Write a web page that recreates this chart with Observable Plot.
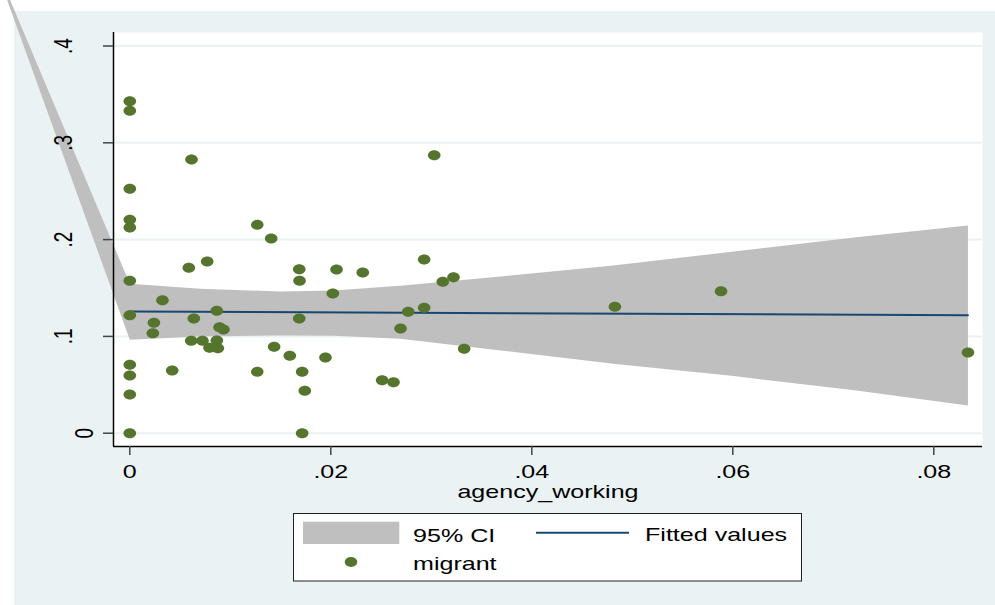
<!DOCTYPE html>
<html>
<head>
<meta charset="utf-8">
<script src="https://cdn.jsdelivr.net/npm/d3@7"></script>
<script src="https://cdn.jsdelivr.net/npm/@observablehq/plot@0.6"></script>
<style>
  html, body { margin: 0; padding: 0; background: #ffffff; overflow: hidden; }
  #page { position: relative; width: 995px; height: 605px; }
  #bg { position: absolute; left: 14px; top: 11px; width: 981px; height: 594px; background: #EAF2F3; }
  #chart { position: absolute; left: 0; top: 0; }
  #legend { position: absolute; left: 0; top: 0; }
</style>
</head>
<body>
<div id="page">
  <div id="bg"></div>
  <div id="chart"></div>
  <svg id="legend" width="995" height="605"></svg>
</div>
<script>
// ---- data ----
const migrantX = [0,0,0.00614,0,0,0,0.01268,0.01407,0.03029,0.00587,0.0077,0.01686,0.01689,0.02057,0.02318,0.02929,0.03114,0.03221,0,0.00325,0.0202,0,0.0024,0.00229,0.00637,0.00866,0.00893,0.00932,0.01686,0.0277,0.02929,0.02694,0.03327,0.00611,0.00723,0.00793,0.00866,0.00876,0.01436,0.01592,0.01947,0,0,0.00422,0.01268,0.01715,0.01741,0.02511,0.02624,0,0,0.01715,0.04827,0.05883,0.0834];
const migrantY = [0.343,0.333,0.2828,0.2525,0.2204,0.2125,0.2153,0.2011,0.2872,0.1708,0.1774,0.1694,0.1574,0.1691,0.166,0.1794,0.1564,0.1612,0.1574,0.1374,0.1443,0.1219,0.114,0.1033,0.1185,0.1264,0.1095,0.1071,0.1185,0.1254,0.1295,0.1082,0.0872,0.0954,0.0954,0.0882,0.0958,0.0878,0.0893,0.08,0.0782,0.0707,0.0596,0.0648,0.0634,0.0634,0.0438,0.0548,0.0527,0.04,0,0,0.1306,0.1467,0.0834];

const bandX     = [0, 0.007, 0.015, 0.0203, 0.0269, 0.0369, 0.0481, 0.0601, 0.0723, 0.0834];
const bandUpper = [0.1543, 0.1492, 0.1464, 0.1474, 0.1522, 0.1620, 0.1732, 0.1877, 0.2025, 0.2146];
const bandLower = [0.0965, 0.0999, 0.1009, 0.1006, 0.0975, 0.0855, 0.0717, 0.0590, 0.0441, 0.0286];
const bandApex  = [-0.014, 0.499]; // stray polygon vertex drawn by the original (the wedge at top left)

const fitX = [0, 0.0834];
const fitY = [0.1257, 0.1219];

const xTicks = [0, 0.02, 0.04, 0.06, 0.08];
const xTickLabels = ["0", ".02", ".04", ".06", ".08"];
const yTicks = [0, 0.1, 0.2, 0.3, 0.4];
const yTickLabels = ["0", ".1", ".2", ".3", ".4"];

const xTitle = "agency_working";
const legendLabels = ["95% CI", "Fitted values", "migrant"];

// ---- styles ----
const GREEN = "#55752F", NAVY = "#1A476F", CI = "#BFBFBF", GRID = "#EAF2F3";
const FONT = "'Liberation Sans', Arial, sans-serif";
const FS = 19;
const STRETCH = 1.32;

const xDomain = [-0.001622, 0.084846];
const yDomain = [-0.01374, 0.41395];

const points = migrantX.map((x, i) => ({x, y: migrantY[i]}));
const poly = [{x: bandApex[0], y: bandApex[1]}]
  .concat(bandX.map((x, i) => ({x, y: bandUpper[i]})))
  .concat(bandX.map((x, i) => ({x, y: bandLower[i]})).reverse())
  .concat([{x: bandApex[0], y: bandApex[1]}]);
const fit = fitX.map((x, i) => ({x, y: fitY[i]}));

const ellipse = {
  draw(ctx) {
    const rx = 6.3, ry = 5, k = 0.5523;
    ctx.moveTo(rx, 0);
    ctx.bezierCurveTo(rx, k * ry, k * rx, ry, 0, ry);
    ctx.bezierCurveTo(-k * rx, ry, -rx, k * ry, -rx, 0);
    ctx.bezierCurveTo(-rx, -k * ry, -k * rx, -ry, 0, -ry);
    ctx.bezierCurveTo(k * rx, -ry, rx, -k * ry, rx, 0);
    ctx.closePath();
  }
};

const xTickLen = 9 / 968;
const yTickLen = 10 / 10050;

const chart = Plot.plot({
  width: 995,
  height: 605,
  marginLeft: 113,
  marginRight: 13,
  marginTop: 32,
  marginBottom: 159,
  x: {domain: xDomain, axis: null},
  y: {domain: yDomain, axis: null},
  style: {background: "transparent", fontFamily: FONT, fontSize: FS + "px", overflow: "hidden"},
  marks: [
    Plot.frame({fill: "white", stroke: "none"}),
    Plot.ruleY(yTicks, {stroke: GRID, strokeWidth: 2}),
    Plot.line(poly, {x: "x", y: "y", fill: CI, stroke: "none"}),
    Plot.line(fit, {x: "x", y: "y", stroke: NAVY, strokeWidth: 2}),
    Plot.dot(points, {x: "x", y: "y", symbol: ellipse, fill: GREEN, stroke: "none", r: 5}),
    // axis lines
    Plot.ruleX([xDomain[0]], {y1: yDomain[0], y2: yDomain[1], stroke: "#000", strokeWidth: 1.5}),
    Plot.ruleY([yDomain[0]], {x1: xDomain[0], x2: xDomain[1], stroke: "#000", strokeWidth: 1.5}),
    // ticks
    Plot.ruleX(xTicks, {x: d => d, y1: yDomain[0], y2: yDomain[0] - xTickLen, stroke: "#444", strokeWidth: 1.5}),
    Plot.ruleY(yTicks, {y: d => d, x1: xDomain[0] - yTickLen, x2: xDomain[0], stroke: "#444", strokeWidth: 1.5}),
    // tick labels
    Plot.text(xTicks, {x: d => d, y: yDomain[0], text: (d, i) => xTickLabels[i], dy: 25.5, lineAnchor: "middle", textAnchor: "middle", fill: "#000", fontSize: FS}),
    Plot.text(yTicks.filter(d => d !== 0), {x: xDomain[0], y: d => d, text: d => yTickLabels[yTicks.indexOf(d)], rotate: -90, dx: -50, lineAnchor: "middle", textAnchor: "middle", fill: "#000", fontSize: FS}),
    Plot.text(yTicks.filter(d => d === 0), {x: xDomain[0], y: d => d, text: d => yTickLabels[yTicks.indexOf(d)], rotate: -90, dx: -29, lineAnchor: "middle", textAnchor: "middle", fill: "#000", fontSize: FS}),
    Plot.text([xTitle], {frameAnchor: "bottom", text: d => d, dy: 45.5, lineAnchor: "middle", textAnchor: "middle", fill: "#000", fontSize: FS})
  ]
});
document.getElementById("chart").appendChild(chart);

// Stretch text horizontally like the reference image
chart.querySelectorAll("text").forEach(t => {
  const tr = t.getAttribute("transform");
  if (tr) {
    t.setAttribute("transform", tr + (tr.includes("rotate") ? ` scale(1,${STRETCH})` : ` scale(${STRETCH},1)`));
  } else {
    const x = +t.getAttribute("x") || 0, y = +t.getAttribute("y") || 0;
    t.removeAttribute("x"); t.removeAttribute("y");
    t.setAttribute("transform", `translate(${x},${y}) scale(${STRETCH},1)`);
  }
});

// ---- legend ----
const lg = d3.select("#legend");
lg.append("rect").attr("x", 293.5).attr("y", 513.5).attr("width", 508).attr("height", 67.5)
  .attr("fill", "white").attr("stroke", "#222").attr("stroke-width", 1);
lg.append("rect").attr("x", 303).attr("y", 521.7).attr("width", 96.3).attr("height", 22.3).attr("fill", CI);
lg.append("line").attr("x1", 536).attr("x2", 629).attr("y1", 532.7).attr("y2", 532.7)
  .attr("stroke", NAVY).attr("stroke-width", 2);
lg.append("ellipse").attr("cx", 351).attr("cy", 562).attr("rx", 6.3).attr("ry", 5).attr("fill", GREEN);
const legendPos = [[413, 541.7], [645, 540.7], [413, 570]];
legendLabels.forEach((s, i) => {
  lg.append("text").attr("transform", `translate(${legendPos[i][0]},${legendPos[i][1]}) scale(${STRETCH},1)`)
    .attr("font-family", FONT).attr("font-size", FS).attr("fill", "#000").text(s);
});
</script>
</body>
</html>
